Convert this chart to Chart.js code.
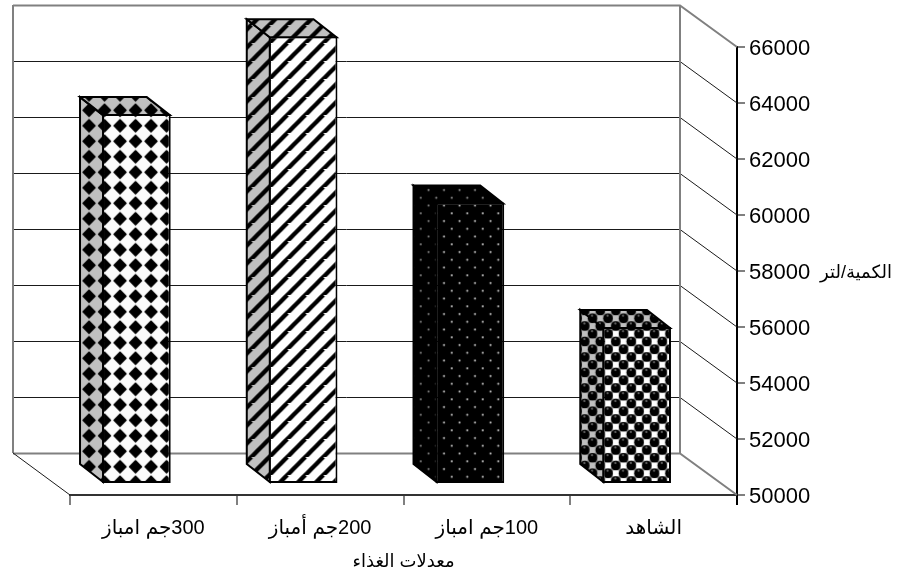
<!DOCTYPE html>
<html>
<head>
<meta charset="utf-8">
<style>
  html, body { margin: 0; padding: 0; background: #fff; }
  canvas { display: block; direction: rtl; }
</style>
<script src="https://cdn.jsdelivr.net/npm/chart.js@4/dist/chart.umd.min.js"></script>
</head>
<body>
<canvas id="chart" width="900" height="573"></canvas>
<script>
// Feed-rate categories and measured quantity (litres)
const categories = ["الشاهد", "100جم امباز", "200جم أمباز", "300جم امباز"];
const quantities = [55610, 60050, 65990, 63210];
const valueTitle = "الكمية/لتر";
const categoryTitle = "معدلات الغذاء";

const FONT = '"Liberation Sans", Arial, "DejaVu Sans", sans-serif';
const PERIOD = 15.5;

// Builds a repeating fill; (ox, oy) is where the tile origin lands on the page
function tile(size, ox, oy, paint) {
  const c = document.createElement("canvas");
  c.width = c.height = size;
  const g = c.getContext("2d");
  paint(g, size);
  const p = g.createPattern(c, "repeat");
  p.setTransform(new DOMMatrix().translate(ox, oy));
  return p;
}

// Staggered lattice: rows apart by rowGap, every other row shifted half a period
function lattice(rowGap, fn) {
  const span = PERIOD * 2;
  for (let row = -1; row * rowGap <= span + rowGap; row++) {
    const shift = row % 2 === 0 ? 0 : PERIOD / 2;
    for (let x = -PERIOD + shift; x <= span + PERIOD; x += PERIOD) fn(x, row * rowGap);
  }
}

// Solid diamonds on a square grid, leaving rounded light cells between them
function diamonds(bg) {
  return tile(31, 137, 322.7, (g, s) => {
    g.fillStyle = bg; g.fillRect(0, 0, s, s);
    g.fillStyle = g.strokeStyle = "#000";
    g.lineJoin = "round"; g.lineWidth = 1.6;
    for (let cy = 0; cy <= s; cy += PERIOD) {
      for (let cx = 0; cx <= s; cx += PERIOD) {
        const h = 5.9;
        g.beginPath();
        g.moveTo(cx - h, cy); g.lineTo(cx, cy - h); g.lineTo(cx + h, cy); g.lineTo(cx, cy + h);
        g.closePath(); g.fill(); g.stroke();
      }
    }
  });
}

function stripes(bg) {
  return tile(18, 502.3, 0, (g, s) => {
    g.fillStyle = bg; g.fillRect(0, 0, s, s);
    g.strokeStyle = "#000"; g.lineWidth = 4.4;
    for (let k = -s; k <= 2 * s; k += s) {
      g.beginPath(); g.moveTo(k - s, 2 * s); g.lineTo(k + s, 0); g.stroke();
    }
  });
}

function dots(dot, radius) {
  return tile(31, 468.7, 224.3, (g, s) => {
    g.fillStyle = "#000"; g.fillRect(0, 0, s, s);
    g.fillStyle = dot;
    lattice(PERIOD / 2, (x, y) => { g.beginPath(); g.arc(x, y, radius, 0, Math.PI * 2); g.fill(); });
  });
}

function spheres(cell) {
  return tile(31, 625 + PERIOD / 2, 461, (g, s) => {
    g.fillStyle = "#808080"; g.fillRect(0, 0, s, s);
    lattice(PERIOD / 2, (x, y) => {
      g.fillStyle = "#000";
      g.beginPath(); g.arc(x, y, 4.8, 0, Math.PI * 2); g.fill();
      g.fillStyle = "#666";
      g.beginPath(); g.arc(x - 0.5, y - 2.6, 1.1, 0, Math.PI * 2); g.fill();
      g.fillStyle = cell;
      g.fillRect(x + PERIOD / 2 - 2.9, y - 2.9, 5.8, 5.8);
    });
  });
}

const frontFills = [spheres("#fff"), dots("#d8d8d8", 1), stripes("#fff"), diamonds("#fbfbfb")];
const topFills = [spheres("#c0c0c0"), dots("#a0a0a0", 1), stripes("#c0c0c0"), diamonds("#c0c0c0")];
const sideFills = [spheres("#c0c0c0"), dots("#909090", 1), stripes("#c0c0c0"), diamonds("#c0c0c0")];

// Oblique projection: full floor depth, bar depth, and the bar's inset from the front edge
const FLOOR = { dx: 57, dy: 42 };
const BAR = { dx: 23, dy: 18 };
const INSET = { dx: 17, dy: 11 };
// Digits sit slightly high on a "middle" baseline; nudge the value labels down
const VALUE_LABEL_NUDGE = 2;

const wallPlugin = {
  id: "wall",
  beforeDraw(chart) {
    chart.scales.y.getLabelItems().forEach(item => {
      if (!item.nudged) { item.options.translation[1] += VALUE_LABEL_NUDGE; item.nudged = true; }
    });
  },
  beforeDatasetsDraw(chart) {
    const { ctx, chartArea: a, scales: { y } } = chart;
    const backL = a.left - FLOOR.dx, backR = a.right - FLOOR.dx;
    ctx.save();
    y.ticks.forEach((t, i) => {
      const py = y.getPixelForValue(t.value);
      const edge = i === 0 || i === y.ticks.length - 1;
      ctx.strokeStyle = edge ? "#808080" : "#1a1a1a";
      ctx.lineWidth = edge ? 2 : 1;
      ctx.beginPath();
      ctx.moveTo(backL, Math.round(py - FLOOR.dy) + 0.5);
      ctx.lineTo(backR, Math.round(py - FLOOR.dy) + 0.5);
      ctx.lineTo(a.right, py);
      ctx.stroke();
    });
    ctx.strokeStyle = "#808080";
    ctx.lineWidth = 2;
    for (const wx of [backL, backR]) {
      ctx.beginPath();
      ctx.moveTo(wx, a.top - FLOOR.dy);
      ctx.lineTo(wx, a.bottom - FLOOR.dy);
      ctx.stroke();
    }
    ctx.strokeStyle = "#1a1a1a";
    ctx.lineWidth = 1;
    ctx.beginPath();
    ctx.moveTo(backL, a.bottom - FLOOR.dy);
    ctx.lineTo(a.left, a.bottom);
    ctx.stroke();
    ctx.restore();
  },
  beforeDatasetDraw(chart) {
    chart.ctx.save();
    chart.ctx.translate(-INSET.dx, -INSET.dy);
  },
  afterDatasetDraw(chart, args) {
    const ctx = chart.ctx;
    ctx.strokeStyle = "#000";
    ctx.lineWidth = 2;
    ctx.lineJoin = "miter";
    args.meta.data.forEach((bar, i) => {
      const p = bar.getProps(["x", "y", "base", "width"], true);
      const l = p.x - p.width / 2 + 1, r = p.x + p.width / 2 - 1;
      const t = p.y + 1, b = p.base - 1;
      // side face
      ctx.fillStyle = sideFills[i];
      ctx.beginPath();
      ctx.moveTo(l, t); ctx.lineTo(l - BAR.dx, t - BAR.dy);
      ctx.lineTo(l - BAR.dx, b - BAR.dy); ctx.lineTo(l, b);
      ctx.closePath(); ctx.fill(); ctx.stroke();
      // top face
      ctx.fillStyle = topFills[i];
      ctx.beginPath();
      ctx.moveTo(l, t); ctx.lineTo(l - BAR.dx, t - BAR.dy);
      ctx.lineTo(r - BAR.dx, t - BAR.dy); ctx.lineTo(r, t);
      ctx.closePath(); ctx.fill(); ctx.stroke();
    });
    ctx.restore();
  },
  afterDraw(chart) {
    const { ctx, scales: { y } } = chart;
    ctx.save();
    ctx.fillStyle = "#000";
    ctx.font = "18px " + FONT;
    ctx.textAlign = "center";
    ctx.textBaseline = "middle";
    ctx.fillText(valueTitle, 856, y.getPixelForValue(58000) + 2);
    ctx.restore();
  }
};

new Chart(document.getElementById("chart"), {
  type: "bar",
  plugins: [wallPlugin],
  data: {
    labels: categories,
    datasets: [{
      data: quantities,
      base: 50000,
      backgroundColor: frontFills,
      borderColor: "#000",
      borderWidth: 2,
      borderSkipped: false,
      barPercentage: 0.412,
      categoryPercentage: 1
    }]
  },
  options: {
    responsive: false,
    animation: false,
    layout: { padding: { left: 70, top: 47, right: 0, bottom: 0 } },
    plugins: { legend: { display: false }, tooltip: { enabled: false } },
    scales: {
      x: {
        reverse: true,
        grid: {
          drawOnChartArea: false, drawTicks: true, tickLength: 10, lineWidth: 2,
          tickColor: c => (c.index === 0 ? "#000" : "#808080")
        },
        border: { color: "#333", width: 2 },
        ticks: { color: "#000", font: { family: FONT, size: 20 }, padding: 11, maxRotation: 0, autoSkip: false },
        title: { display: true, text: categoryTitle, color: "#000", font: { family: FONT, size: 18 }, padding: { top: 4, bottom: 0 } },
        afterFit(scale) { scale.height = 78; }
      },
      y: {
        position: "right",
        min: 50000,
        max: 66000,
        grid: { drawOnChartArea: false, drawTicks: true, tickLength: 8, color: "#808080", lineWidth: 2 },
        border: { color: "#000", width: 2 },
        ticks: { color: "#000", stepSize: 2000, font: { family: FONT, size: 22 }, padding: 4, callback: v => String(v) },
        afterFit(scale) { scale.width = 163; }
      }
    }
  }
});
</script>
</body>
</html>
